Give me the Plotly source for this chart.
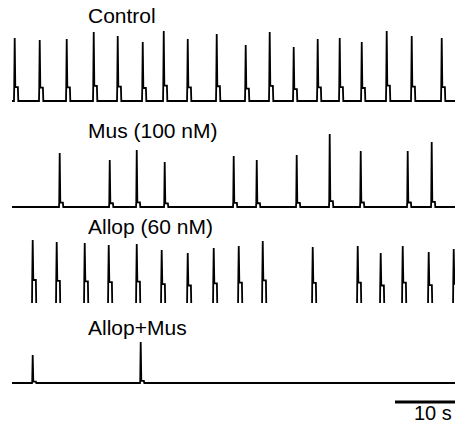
import plotly.graph_objects as go

# ---- data (spike onset times in s, amplitudes in arbitrary units) ----
trace_names = ["Control", "Mus (100 nM)", "Allop (60 nM)", "Allop+Mus"]

control_t = [0.33, 4.5, 9.0, 13.5, 17.5, 21.67, 25.17, 29.17, 34.0, 38.83,
             42.83, 46.83, 50.83, 54.5, 58.17, 62.33, 66.5, 71.5]
control_a = [63, 61, 62, 69, 65, 59, 70, 62, 67, 56, 69, 54, 62, 63, 59, 70, 65, 63]

mus_t = [7.83, 16.17, 20.67, 25.33, 36.83, 40.67, 47.33, 52.83, 58.0, 65.83, 69.83]
mus_a = [54, 47, 57, 45, 51, 47, 52, 73, 56, 56, 65]

allop_t = [3.33, 7.33, 12.0, 16.0, 20.67, 24.83, 29.17, 33.5, 37.67, 41.67,
           50.0, 57.5, 61.33, 65.0, 69.33, 73.5]
allop_a = [69, 67, 66, 64, 65, 59, 56, 61, 63, 68, 62, 63, 56, 63, 57, 60]

allopmus_t = [3.33, 21.33]
allopmus_a = [28, 41]

pedestal = [0.22, 0.08, 0.42, 0.05]
scale_bar_s = 10
T_START, T_END = 0.0, 74.5

series = [(control_t, control_a), (mus_t, mus_a), (allop_t, allop_a), (allopmus_t, allopmus_a)]

# ---- layout geometry (pixels) ----
W, H = 455, 425
baselines_px = [101, 207, 309, 383]
label_y_px = [16, 130, 226, 327]
label_x_px = 86
Y_LO, Y_HI = -6, 80


def waveform(times, amps, p):
    xs, ys = [T_START], [0]
    for t, a in zip(times, amps):
        xs += [t, t + 0.04, t + 0.12, t + 0.22, t + 0.65, t + 0.72]
        ys += [0, p * a, a, p * a, p * a, 0]
    xs.append(T_END)
    ys.append(0)
    return xs, ys


fig = go.Figure()
layout_axes = {}
for i, ((ts, am), p) in enumerate(zip(series, pedestal)):
    xs, ys = waveform(ts, am, p)
    yname = "y" if i == 0 else f"y{i+1}"
    fig.add_trace(go.Scatter(x=xs, y=ys, mode="lines", yaxis=yname, xaxis="x",
                             line=dict(color="black", width=1.8),
                             hoverinfo="skip", showlegend=False))
    b = baselines_px[i]
    bot = (H - (b - Y_LO)) / H
    top = (H - (b - Y_HI)) / H
    key = "yaxis" if i == 0 else f"yaxis{i+1}"
    layout_axes[key] = dict(domain=[bot, top], range=[Y_LO, Y_HI], anchor="x",
                            visible=False, fixedrange=True)

x_lo = -12 / 6.0
x_hi = x_lo + W / 6.0

fig.update_layout(
    width=W, height=H,
    margin=dict(l=0, r=0, t=0, b=0),
    paper_bgcolor="white", plot_bgcolor="white",
    xaxis=dict(range=[x_lo, x_hi], visible=False, anchor="y", fixedrange=True),
    showlegend=False,
    **layout_axes,
)

# scale bar
fig.add_shape(type="line", xref="x", yref="paper",
              x0=x_hi - scale_bar_s, x1=x_hi, y0=(H - 402) / H, y1=(H - 402) / H,
              line=dict(color="black", width=3))

font = dict(family="Liberation Sans, Arial, sans-serif", size=21, color="black")
for name, ly in zip(trace_names, label_y_px):
    fig.add_annotation(text=name, xref="paper", yref="paper",
                       x=label_x_px / W, y=(H - ly) / H,
                       xanchor="left", yanchor="middle", showarrow=False, font=font)

fig.add_annotation(text=f"{scale_bar_s} s", xref="paper", yref="paper",
                   x=453 / W, y=0, xanchor="right", yanchor="bottom", borderpad=0,
                   showarrow=False, font=dict(family="Liberation Sans, Arial, sans-serif",
                                              size=20, color="black"))

fig.write_html("out.html")
